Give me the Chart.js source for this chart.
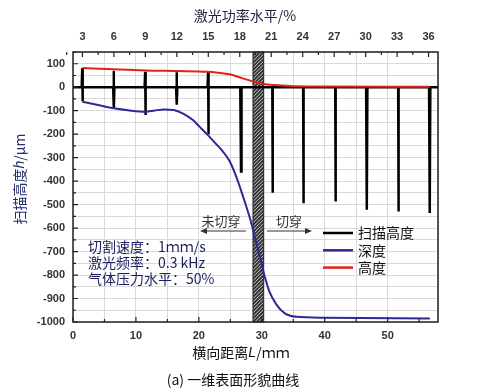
<!DOCTYPE html>
<html>
<head>
<meta charset="utf-8">
<script src="https://cdn.jsdelivr.net/npm/chart.js@4.4.1/dist/chart.umd.min.js"></script>
<style>
  body { margin: 0; background: #fff; }
  #wrap { width: 494px; height: 392px; }
</style>
</head>
<body>
<div id="wrap"><canvas id="chart" width="494" height="392"></canvas></div>
<script>
// 横向距离 L (mm) -> 深度 (µm)
const depthX = [1.5, 4, 6.5, 9, 11.5, 13, 14.5, 16, 17.5, 19, 20.1, 21.4, 22.5, 23.6, 24.9, 26, 27.5, 28.3, 29.1, 29.9, 30.4, 31.2, 32.3, 33.6, 35.5, 40, 56.7];
const depthY = [-62, -76, -90, -99, -104, -99, -95, -97, -112, -139, -168, -203, -235, -267, -315, -385, -505, -575, -660, -745, -800, -870, -925, -962, -978, -982, -985];

// 高度 (µm)
const heightX = [1.5, 6.5, 11.5, 16.5, 21.4, 23, 24.9, 26.7, 28.6, 30.1, 32, 34.4, 40, 56.7];
const heightY = [82, 76, 71, 69, 66, 62, 55, 40, 25, 15, 9, 5, 3, 2];

// 扫描高度: baseline 0 with one spike per cut
const spikeX = [1.5, 6.5, 11.5, 16.5, 21.5, 26.7, 31.7, 36.6, 41.7, 46.7, 51.7, 56.7];
const spikeTop = [82, 70, 66, 64, 66, 0, 0, 0, 0, 0, 0, 0];
const spikeBottom = [-60, -89, -118, -75, -200, -359, -449, -494, -487, -522, -529, -536];

// top axis (激光功率水平 %) labels, and the mm <-> % relation
const powerTicks = [3, 6, 9, 12, 15, 18, 21, 24, 27, 30, 33, 36];
const powerRange = [2.1, 36.9];   // % at L = 0 and L = 58 mm
const xRange = [0, 58];
const yRange = [-1000, 150];
const cutZone = [28.6, 30.3];     // hatched band, mm

const noteLines = ['切割速度：1ｍｍ/s', '激光频率：0.3 kHz', '气体压力水平：50%'];

const cjk = '"Noto Sans CJK SC", "Noto Sans", sans-serif';
const tickFont = { family: '"Liberation Sans", Arial, sans-serif', size: 11, weight: 'bold' };

const scanPts = [{ x: xRange[0], y: 0 }];
spikeX.forEach(function (p, i) {
  scanPts.push({ x: p - 0.12, y: 0 }, { x: p - 0.03, y: spikeTop[i] }, { x: p, y: spikeBottom[i] }, { x: p + 0.08, y: 0 });
});
scanPts.push({ x: xRange[1], y: 0 });

function zip(xs, ys) {
  return xs.map(function (x, i) { return { x: x, y: ys[i] }; });
}

function runs(ctx, parts, cx, cy) {
  let total = 0;
  parts.forEach(function (p) { ctx.font = p[1]; total += ctx.measureText(p[0]).width; });
  let x = cx - total / 2;
  parts.forEach(function (p) {
    ctx.font = p[1];
    ctx.fillText(p[0], x, cy);
    x += ctx.measureText(p[0]).width;
  });
}

function arrow(ctx, x0, x1, y) {
  const dir = x1 > x0 ? 1 : -1;
  ctx.beginPath();
  ctx.moveTo(x0, y);
  ctx.lineTo(x1 - dir * 5, y);
  ctx.stroke();
  ctx.beginPath();
  ctx.moveTo(x1, y);
  ctx.lineTo(x1 - dir * 7, y - 3);
  ctx.lineTo(x1 - dir * 7, y + 3);
  ctx.closePath();
  ctx.fill();
}

const decor = {
  id: 'decor',
  beforeDatasetsDraw(chart) {
    const ctx = chart.ctx, a = chart.chartArea, sx = chart.scales.x;
    const x0 = sx.getPixelForValue(cutZone[0]), x1 = sx.getPixelForValue(cutZone[1]);
    ctx.save();
    ctx.beginPath();
    ctx.rect(x0, a.top, x1 - x0, a.bottom - a.top);
    ctx.fillStyle = '#fff';
    ctx.fill();
    ctx.clip();
    ctx.strokeStyle = '#333';
    ctx.lineWidth = 2;
    const h = a.bottom - a.top;
    for (let t = x0 - h; t < x1 + 4; t += 3.6) {
      ctx.beginPath();
      ctx.moveTo(t, a.bottom);
      ctx.lineTo(t + h, a.top);
      ctx.stroke();
    }
    ctx.restore();
    ctx.save();
    ctx.strokeStyle = '#222';
    ctx.lineWidth = 1;
    ctx.strokeRect(x0, a.top, x1 - x0, a.bottom - a.top);
    ctx.restore();
  },
  afterDatasetsDraw(chart) {
    const ctx = chart.ctx, a = chart.chartArea;
    const sx = chart.scales.x, sy = chart.scales.y, st = chart.scales.x2;
    ctx.save();

    // frame
    ctx.strokeStyle = '#222';
    ctx.lineWidth = 1.5;
    ctx.strokeRect(a.left, a.top, a.right - a.left, a.bottom - a.top);

    // inward ticks
    ctx.lineWidth = 1.2;
    ctx.beginPath();
    for (let v = yRange[0]; v <= yRange[1]; v += 50) {
      const y = sy.getPixelForValue(v), len = v % 100 === 0 ? 5 : 3;
      ctx.moveTo(a.left, y); ctx.lineTo(a.left + len, y);
    }
    for (let v = xRange[0]; v <= xRange[1]; v += 5) {
      const x = sx.getPixelForValue(v), len = v % 10 === 0 ? 5 : 3;
      ctx.moveTo(x, a.bottom); ctx.lineTo(x, a.bottom - len);
    }
    powerTicks.forEach(function (v) {
      const x = st.getPixelForValue(v);
      ctx.moveTo(x, a.top); ctx.lineTo(x, a.top + 5);
      const xm = st.getPixelForValue(v - 1.5);
      ctx.moveTo(xm, a.top); ctx.lineTo(xm, a.top + 3);
    });
    ctx.stroke();

    // legend
    ctx.textBaseline = 'middle';
    ctx.textAlign = 'left';
    chart.data.datasets.forEach(function (d, i) {
      const y = 233 + i * 17.3;
      ctx.strokeStyle = d.borderColor;
      ctx.lineWidth = 2.5;
      ctx.beginPath(); ctx.moveTo(323, y); ctx.lineTo(353, y); ctx.stroke();
      ctx.fillStyle = '#111';
      ctx.font = '14px ' + cjk;
      ctx.fillText(d.label, 358, y);
    });

    // cut / uncut notes
    ctx.fillStyle = '#333';
    ctx.strokeStyle = '#333';
    ctx.lineWidth = 1.2;
    ctx.font = '13px ' + cjk;
    ctx.textAlign = 'center';
    ctx.fillText('未切穿', 221, 221);
    arrow(ctx, 246, 200, 231);
    ctx.fillText('切穿', 289, 221);
    arrow(ctx, 267, 312, 231);

    // process parameters
    ctx.textAlign = 'left';
    ctx.fillStyle = '#1b1f5e';
    ctx.font = '14px ' + cjk;
    noteLines.forEach(function (t, i) { ctx.fillText(t, 88, 247 + i * 15.6); });

    // axis titles and caption
    ctx.textAlign = 'left';
    ctx.fillStyle = '#222244';
    runs(ctx, [['激光功率水平/%', '14px ' + cjk]], 245, 16);
    ctx.fillStyle = '#111';
    runs(ctx, [['横向距离', '14px ' + cjk], ['L', 'italic 14px "Liberation Sans", Arial'], ['/ｍｍ', '14px ' + cjk]], 241, 353);
    runs(ctx, [['(a) 一维表面形貌曲线', '14px ' + cjk]], 233, 380);
    ctx.save();
    ctx.translate(20, 179);
    ctx.rotate(-Math.PI / 2);
    ctx.fillStyle = '#1f2d6b';
    runs(ctx, [['扫描高度', '14px ' + cjk], ['h', 'italic 14px "Liberation Sans", Arial'], ['/μm', '14px ' + cjk]], 0, 0);
    ctx.restore();

    ctx.restore();
  }
};

new Chart(document.getElementById('chart'), {
  type: 'line',
  data: {
    datasets: [
      { label: '扫描高度', data: scanPts, borderColor: '#000', borderWidth: 2.5, pointRadius: 0, tension: 0, order: 3 },
      { label: '深度', data: zip(depthX, depthY), borderColor: '#2b2a96', borderWidth: 2, pointRadius: 0, cubicInterpolationMode: 'monotone', order: 2 },
      { label: '高度', data: zip(heightX, heightY), borderColor: '#e3211c', borderWidth: 2, pointRadius: 0, cubicInterpolationMode: 'monotone', order: 1 }
    ]
  },
  options: {
    responsive: false,
    animation: false,
    layout: { padding: { left: 0, right: 56, top: 0, bottom: 0 } },
    plugins: { legend: { display: false }, tooltip: { enabled: false } },
    scales: {
      x: {
        type: 'linear', position: 'bottom', min: xRange[0], max: xRange[1],
        afterFit: function (s) { s.height = 70; },
        grid: { color: '#d9d9d9', drawTicks: false },
        border: { display: false },
        ticks: {
          stepSize: 5, autoSkip: false, maxRotation: 0, padding: 7, color: '#333', font: tickFont,
          callback: function (v) { return v % 10 === 0 ? v : ''; }
        }
      },
      x2: {
        type: 'linear', position: 'top', min: powerRange[0], max: powerRange[1],
        afterFit: function (s) { s.height = 52; },
        afterBuildTicks: function (s) { s.ticks = powerTicks.map(function (v) { return { value: v }; }); },
        grid: { display: false, drawTicks: false },
        border: { display: false },
        ticks: { autoSkip: false, maxRotation: 0, padding: 8, color: '#333', font: tickFont }
      },
      y: {
        type: 'linear', min: yRange[0], max: yRange[1],
        afterFit: function (s) { s.width = 73; },
        grid: { color: '#d9d9d9', drawTicks: false },
        border: { display: false },
        ticks: {
          stepSize: 50, autoSkip: false, padding: 8, color: '#333', font: tickFont,
          callback: function (v) { return v % 100 === 0 ? v : ''; }
        }
      }
    }
  },
  plugins: [decor]
});
</script>
</body>
</html>
